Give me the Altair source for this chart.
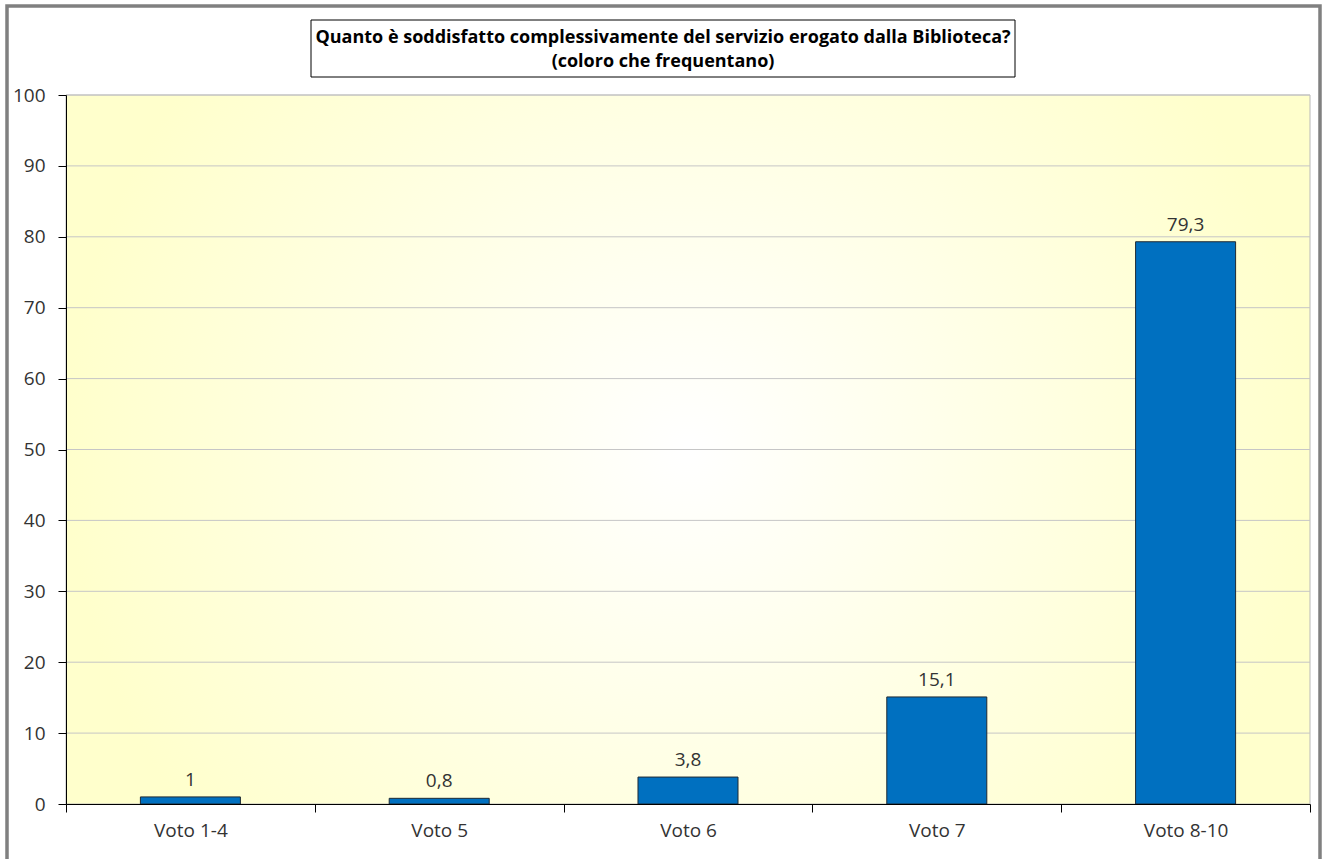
import altair as alt
import pandas as pd

categories = ["Voto 1-4", "Voto 5", "Voto 6", "Voto 7", "Voto 8-10"]
values = [1.0, 0.8, 3.8, 15.1, 79.3]
value_labels = ["1", "0,8", "3,8", "15,1", "79,3"]
y_ticks = [0, 10, 20, 30, 40, 50, 60, 70, 80, 90, 100]
title_lines = [
    "Quanto è soddisfatto complessivamente del servizio erogato dalla Biblioteca?",
    "(coloro che frequentano)",
]

W, H = 1244, 709
FONT = "Open Sans"
TXT = "#333333"
FS = 19

df = pd.DataFrame({"cat": categories, "val": values, "lab": value_labels})
grid_df = pd.DataFrame({"val": y_ticks[1:]})
one = pd.DataFrame({"k": [0]})

yscale = alt.Scale(domain=[0, 100], nice=False)
y_axis = alt.Axis(
    title=None, values=y_ticks, grid=False, domainColor="black", tickColor="black",
    tickSize=8, labelPadding=13, labelFont=FONT, labelFontSize=FS, labelColor=TXT,
    zindex=1,
)
x_axis = alt.Axis(
    title=None, labelAngle=0, tickBand="extent", grid=False, domainColor="black",
    tickColor="black", tickSize=8, labelPadding=9, labelFont=FONT, labelFontSize=FS,
    labelColor=TXT, zindex=1,
)
xenc = alt.X("cat:N", sort=categories, scale=alt.Scale(paddingInner=0, paddingOuter=0), axis=x_axis)
yenc = alt.Y("val:Q", scale=yscale, axis=y_axis)

frame = alt.Chart(one).mark_rect(
    fill="white", fillOpacity=0, stroke="#808080", strokeWidth=3.5
).encode(x=alt.value(-59), x2=alt.value(1254), y=alt.value(-89), y2=alt.value(900))

gradient = alt.RadialGradient(
    gradient="radial",
    stops=[alt.GradientStop(offset=0, color="#ffffff"), alt.GradientStop(offset=1, color="#ffffcc")],
    x1=0.5, y1=0.5, r1=0, x2=0.5, y2=0.5, r2=0.5,
)
background = alt.Chart(one).mark_rect(
    fill=gradient, stroke="#b8b8b8", strokeWidth=1
).encode(x=alt.value(0), x2=alt.value(W), y=alt.value(0), y2=alt.value(H))

grid = alt.Chart(grid_df).mark_rule(color="#c6c6c6", strokeWidth=1).encode(y=yenc)

bars = alt.Chart(df).mark_bar(
    color="#0070C0", stroke="#1f2a33", strokeWidth=1, width=alt.RelativeBandSize(0.402)
).encode(x=xenc, y=yenc)

labels = alt.Chart(df).mark_text(
    baseline="bottom", dy=-7, font=FONT, fontSize=FS, color=TXT
).encode(x=xenc, y=yenc, text="lab:N")

title_box = alt.Chart(one).mark_rect(
    fill="white", stroke="black", strokeWidth=1
).encode(x=alt.value(245), x2=alt.value(949), y=alt.value(-75), y2=alt.value(-18))

title1 = alt.Chart(one).mark_text(
    font=FONT, fontWeight="bold", fontSize=18, color="black", align="center", baseline="middle"
).encode(x=alt.value(597), y=alt.value(-57), text=alt.value(title_lines[0]))
title2 = alt.Chart(one).mark_text(
    font=FONT, fontWeight="bold", fontSize=18, color="black", align="center", baseline="middle"
).encode(x=alt.value(597), y=alt.value(-33), text=alt.value(title_lines[1]))

chart = alt.layer(
    frame, background, grid, bars, labels, title_box, title1, title2
).properties(
    width=W, height=H, autosize="none",
    padding={"left": 66, "top": 95, "right": 16, "bottom": 55},
    background="white",
).configure_view(stroke=None)

chart.save("out.html", embed_options={"renderer": "svg", "actions": False})
